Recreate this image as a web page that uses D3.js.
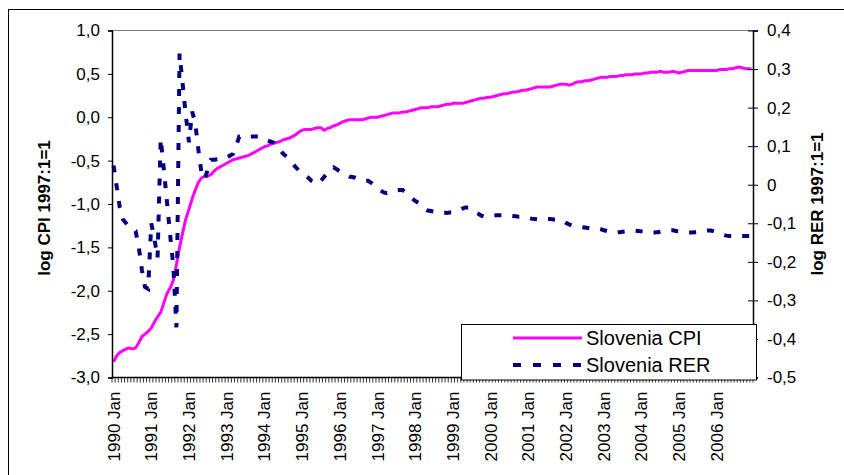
<!DOCTYPE html>
<html>
<head>
<meta charset="utf-8">
<script src="https://cdn.jsdelivr.net/npm/d3@7"></script>
<style>
  html, body { margin: 0; padding: 0; background: #fff; }
  svg { display: block; }
  text { font-family: "Liberation Sans", Arial, sans-serif; fill: #000; }
</style>
</head>
<body>
<svg id="chart" width="844" height="475"></svg>
<script>
// ---- data (monthly, 1990 Jan .. 2006 Dec) ----
const years = [1990,1991,1992,1993,1994,1995,1996,1997,1998,1999,2000,2001,2002,2003,2004,2005,2006];
const monthNames = ["Jan","Feb","Mar","Apr","May","Jun","Jul","Aug","Sep","Oct","Nov","Dec"];
const categories = years.flatMap(y => monthNames.map(m => y + " " + m));

const cpi = [
  -2.82,-2.75,-2.71,-2.69,-2.67,-2.66,-2.67,-2.66,-2.60,-2.53,-2.50,-2.47,
  -2.43,-2.36,-2.30,-2.25,-2.14,-2.03,-1.97,-1.88,-1.70,-1.50,-1.33,-1.17,
  -1.06,-0.94,-0.84,-0.75,-0.70,-0.68,-0.68,-0.66,-0.62,-0.59,-0.57,-0.55,
  -0.53,-0.51,-0.49,-0.48,-0.47,-0.46,-0.45,-0.44,-0.42,-0.40,-0.38,-0.36,
  -0.34,-0.33,-0.31,-0.30,-0.29,-0.28,-0.26,-0.25,-0.24,-0.22,-0.20,-0.17,
  -0.15,-0.14,-0.14,-0.14,-0.13,-0.12,-0.12,-0.15,-0.13,-0.12,-0.10,-0.09,
  -0.07,-0.05,-0.04,-0.03,-0.03,-0.03,-0.03,-0.03,-0.02,-0.01,0.00,0.00,
  0.00,0.01,0.02,0.03,0.04,0.05,0.05,0.05,0.06,0.06,0.07,0.08,
  0.09,0.10,0.11,0.11,0.11,0.12,0.12,0.12,0.13,0.14,0.15,0.15,
  0.16,0.16,0.16,0.16,0.17,0.18,0.19,0.20,0.21,0.22,0.22,0.23,
  0.23,0.24,0.25,0.26,0.27,0.27,0.28,0.29,0.29,0.30,0.31,0.31,
  0.32,0.33,0.34,0.35,0.35,0.35,0.35,0.35,0.36,0.37,0.38,0.38,
  0.38,0.37,0.38,0.40,0.41,0.41,0.42,0.42,0.43,0.44,0.45,0.46,
  0.46,0.46,0.47,0.47,0.47,0.48,0.48,0.49,0.49,0.49,0.50,0.50,
  0.50,0.51,0.51,0.52,0.52,0.52,0.53,0.52,0.52,0.52,0.53,0.52,
  0.51,0.52,0.53,0.54,0.54,0.54,0.54,0.54,0.54,0.54,0.54,0.54,
  0.54,0.55,0.55,0.55,0.56,0.56,0.57,0.58,0.57,0.56,0.56,0.56
];

const rer = [
  0.050,-0.005,-0.060,-0.090,-0.100,-0.110,-0.115,-0.120,-0.160,-0.220,-0.265,-0.270,
  -0.100,-0.140,-0.190,0.120,0.040,-0.045,-0.130,-0.210,-0.370,0.340,0.260,0.180,
  0.110,0.190,0.160,0.090,0.030,0.014,0.040,0.065,0.065,0.066,0.066,0.068,
  0.070,0.075,0.080,0.100,0.125,0.125,0.125,0.125,0.125,0.125,0.125,0.120,
  0.118,0.115,0.112,0.109,0.100,0.090,0.080,0.073,0.065,0.055,0.045,0.037,
  0.030,0.025,0.018,0.010,0.005,0.002,0.010,0.020,0.030,0.040,0.045,0.040,
  0.035,0.030,0.025,0.021,0.020,0.018,0.015,0.012,0.010,0.010,0.005,-0.002,
  -0.010,-0.015,-0.020,-0.022,-0.020,-0.017,-0.015,-0.014,-0.014,-0.020,-0.028,-0.035,
  -0.042,-0.047,-0.055,-0.062,-0.067,-0.068,-0.070,-0.071,-0.072,-0.072,-0.073,-0.072,
  -0.072,-0.070,-0.066,-0.062,-0.059,-0.059,-0.063,-0.070,-0.075,-0.080,-0.083,-0.083,
  -0.082,-0.080,-0.079,-0.079,-0.079,-0.079,-0.080,-0.081,-0.082,-0.083,-0.083,-0.084,
  -0.086,-0.088,-0.089,-0.090,-0.090,-0.090,-0.089,-0.089,-0.090,-0.090,-0.090,-0.094,
  -0.099,-0.103,-0.106,-0.108,-0.109,-0.110,-0.111,-0.112,-0.113,-0.113,-0.113,-0.115,
  -0.118,-0.120,-0.122,-0.124,-0.124,-0.123,-0.122,-0.121,-0.120,-0.119,-0.119,-0.120,
  -0.121,-0.122,-0.123,-0.124,-0.124,-0.123,-0.122,-0.120,-0.119,-0.118,-0.118,-0.120,
  -0.121,-0.122,-0.123,-0.124,-0.124,-0.123,-0.122,-0.121,-0.120,-0.119,-0.119,-0.121,
  -0.124,-0.127,-0.130,-0.132,-0.133,-0.133,-0.133,-0.133,-0.133,-0.133,-0.133,-0.133
];

const leftTicks = [1.0,0.5,0.0,-0.5,-1.0,-1.5,-2.0,-2.5,-3.0];
const rightTicks = [0.4,0.3,0.2,0.1,0,-0.1,-0.2,-0.3,-0.4,-0.5];
const leftTitle = "log CPI 1997:1=1";
const rightTitle = "log RER 1997:1=1";
const seriesNames = ["Slovenia CPI", "Slovenia RER"];
const seriesColors = ["#FF00FF", "#000080"];

// ---- layout ----
const svg = d3.select("#chart");
const L = 112, R = 753, T = 30.5, B = 377.5;
const fontTick = 17;

const x = d3.scaleBand().domain(d3.range(categories.length)).range([L, R]).paddingInner(0).paddingOuter(0);
const xc = i => x(i) + x.bandwidth() / 2;
const yL = d3.scaleLinear().domain([-3, 1]).range([B, T]);
const yR = d3.scaleLinear().domain([-0.5, 0.4]).range([B, T]);

const fmtL = v => d3.format(".1f")(v).replace(".", ",").replace("−", "-");
const fmtR = v => (Math.abs(v) < 1e-9 ? "0" : d3.format(".1f")(v).replace(".", ",").replace("−", "-"));

// outer chart border (only left/top visible within the picture)
svg.append("rect").attr("x", 8.5).attr("y", 9.5).attr("width", 860).attr("height", 480)
  .attr("fill", "none").attr("stroke", "#000").attr("stroke-width", 1);

// plot area top border (grey)
svg.append("line").attr("x1", L).attr("x2", R).attr("y1", T).attr("y2", T)
  .attr("stroke", "#808080").attr("stroke-width", 1.2);

// series lines
const lineCPI = d3.line().x((d, i) => xc(i)).y(d => yL(d));
const lineRER = d3.line().x((d, i) => xc(i)).y(d => yR(d));

svg.append("path").datum(cpi).attr("d", lineCPI)
  .attr("fill", "none").attr("stroke", seriesColors[0]).attr("stroke-width", 3)
  .attr("stroke-linejoin", "round");

svg.append("path").datum(rer).attr("d", lineRER)
  .attr("fill", "none").attr("stroke", seriesColors[1]).attr("stroke-width", 4)
  .attr("stroke-dasharray", "7,11");

// left axis
const gL = svg.append("g").attr("transform", `translate(${L},0)`)
  .call(d3.axisLeft(yL).tickValues(leftTicks).tickFormat(fmtL).tickSize(4).tickPadding(8));
gL.select(".domain").attr("stroke", "#000").attr("stroke-width", 1.5);
gL.selectAll(".tick line").attr("stroke", "#000");
gL.selectAll(".tick text").attr("font-size", fontTick).attr("font-family", "Liberation Sans, Arial, sans-serif");

// right axis (cross ticks)
const gR = svg.append("g").attr("transform", `translate(${R},0)`)
  .call(d3.axisRight(yR).tickValues(rightTicks).tickFormat(fmtR).tickSize(5).tickPadding(9));
gR.select(".domain").attr("stroke", "#000").attr("stroke-width", 1.5);
gR.selectAll(".tick line").attr("stroke", "#000").attr("x1", -5).attr("x2", 5);
gR.selectAll(".tick text").attr("font-size", fontTick).attr("font-family", "Liberation Sans, Arial, sans-serif");

// bottom axis: monthly tick marks at category boundaries
const gB = svg.append("g");
gB.append("line").attr("x1", L).attr("x2", R).attr("y1", B).attr("y2", B)
  .attr("stroke", "#000").attr("stroke-width", 1.5);
gB.selectAll("line.mt").data(d3.range(categories.length + 1)).join("line")
  .attr("class", "mt")
  .attr("x1", i => (i < categories.length ? x(i) : R)).attr("x2", i => (i < categories.length ? x(i) : R))
  .attr("y1", B).attr("y2", B + 5).attr("stroke", "#000").attr("stroke-width", 0.8);

// year labels (at each January)
const janIdx = categories.map((c, i) => i).filter(i => i % 12 === 0);
gB.selectAll("text.yl").data(janIdx).join("text")
  .attr("class", "yl")
  .attr("transform", i => `translate(${xc(i) + 6},${B + 14}) rotate(-90)`)
  .attr("text-anchor", "end")
  .attr("font-size", fontTick)
  .text(i => categories[i]);

// axis titles
svg.append("text")
  .attr("transform", `translate(50,${(T + B) / 2 + 4}) rotate(-90)`)
  .attr("text-anchor", "middle").attr("font-weight", "bold").attr("font-size", 17)
  .text(leftTitle);
svg.append("text")
  .attr("transform", `translate(823,${(T + B) / 2}) rotate(-90)`)
  .attr("text-anchor", "middle").attr("font-weight", "bold").attr("font-size", 17)
  .text(rightTitle);

// legend
const lg = svg.append("g");
lg.append("rect").attr("x", 461.5).attr("y", 324.5).attr("width", 295).attr("height", 55.5)
  .attr("fill", "#fff").attr("stroke", "#000").attr("stroke-width", 1);
const legendRows = [
  { name: seriesNames[0], color: seriesColors[0], w: 3, dash: null, y: 338 },
  { name: seriesNames[1], color: seriesColors[1], w: 4, dash: "8,12", y: 365 }
];
legendRows.forEach(r => {
  lg.append("line").attr("x1", 513).attr("x2", 582).attr("y1", r.y).attr("y2", r.y)
    .attr("stroke", r.color).attr("stroke-width", r.w)
    .attr("stroke-dasharray", r.dash);
  lg.append("text").attr("x", 586).attr("y", r.y).attr("dy", "0.36em")
    .attr("font-size", 20).text(r.name);
});
</script>
</body>
</html>
